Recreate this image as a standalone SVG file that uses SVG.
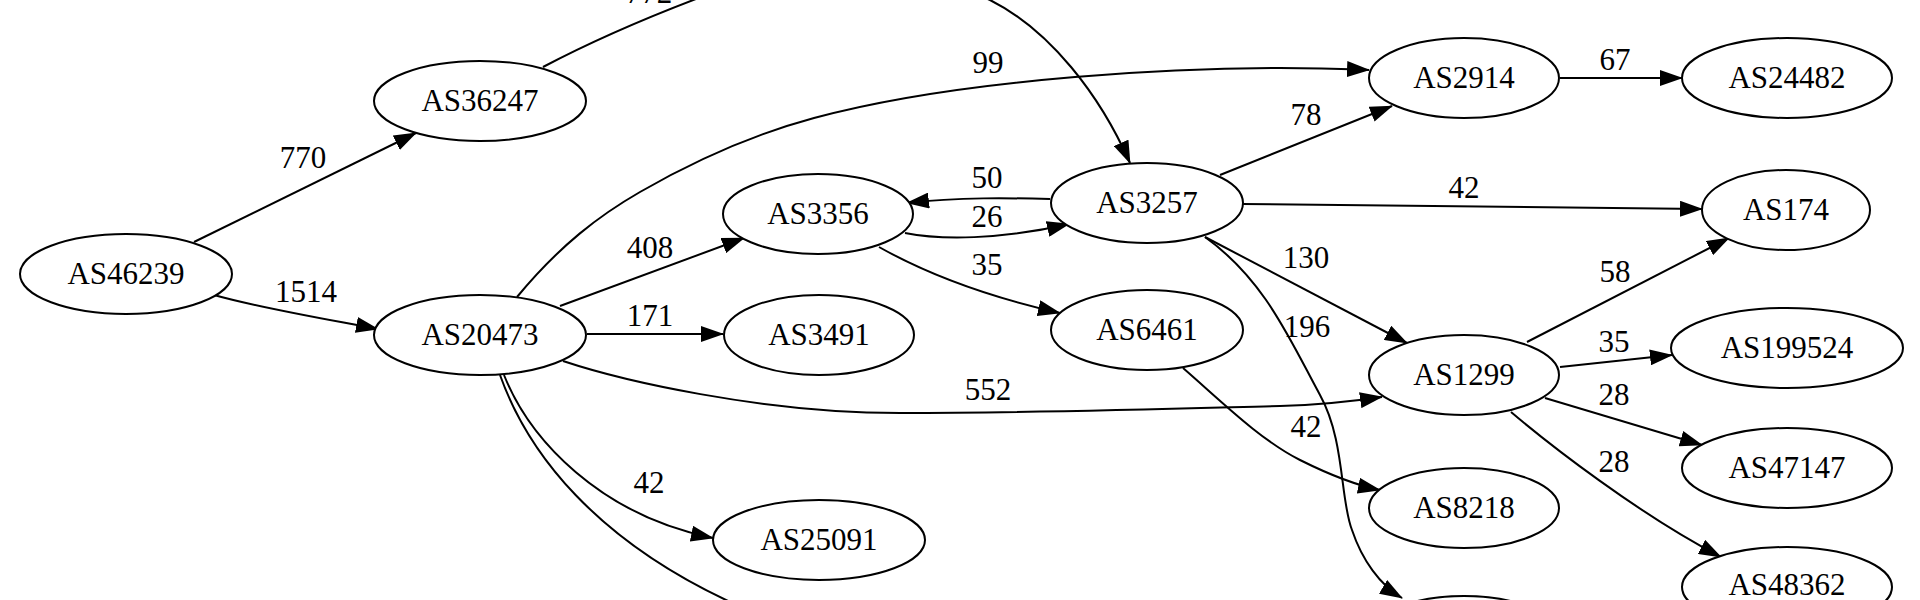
<svg xmlns="http://www.w3.org/2000/svg" width="1920" height="600" viewBox="0 0 1920 600">
<style>
.n ellipse{fill:#fff;stroke:#000;stroke-width:2}
text{font-family:"Liberation Serif","Times New Roman","DejaVu Serif",serif;font-size:31px;fill:#000;text-anchor:middle}
.e path{fill:none;stroke:#000;stroke-width:2;marker-end:url(#ah)}
.e path.na{marker-end:none}
</style>
<defs>
<marker id="ah" markerUnits="userSpaceOnUse" viewBox="0 0 23 16" refX="22" refY="8" markerWidth="23" markerHeight="16" orient="auto">
<path d="M0,0 L23,8 L0,16 z" fill="#000"/>
</marker>
</defs>
<rect width="1920" height="600" fill="#fff"/>
<g id="edges" class="e">
<path d="M194,242 L416,133"/>
<path d="M214,295 C260,308 320,318 378,329"/>
<path d="M543,67 C600,37 660,12 720,-10 C800,-38 920,-30 990,0 C1050,30 1100,95 1130,163"/>
<path d="M517,297 C560,245 600,215 640,192 S740,138 814,118 S980,85 1075,77 S1230,68 1280,68 S1345,69 1369,70"/>
<path d="M560,306 L744,238"/>
<path d="M587,334 L723,334"/>
<path d="M563,361 C620,380 760,413 900,413 C1050,413 1200,408 1280,406 C1320,405 1355,401 1382,397"/>
<path d="M504,375 C530,440 600,515 713,538"/>
<path class="na" d="M500,375 C525,445 590,545 760,615"/>
<path d="M905,233 C940,240 1000,240 1069,224"/>
<path d="M1050,199 C1010,198 960,197 907,203"/>
<path d="M879,247 C920,270 980,295 1060,313"/>
<path d="M1220,175 L1392,106"/>
<path d="M1242,204 L1702,209"/>
<path d="M1205,237 L1407,343"/>
<path d="M1205,237 C1265,280 1290,340 1320,395 C1345,440 1340,500 1352,530 C1362,560 1380,585 1402,598"/>
<path d="M1183,368 C1220,400 1260,440 1300,460 C1330,475 1355,485 1380,490"/>
<path d="M1560,78 L1682,78"/>
<path d="M1527,342 L1729,238"/>
<path d="M1560,367 L1672,355"/>
<path d="M1545,398 L1702,445"/>
<path d="M1511,412 C1550,445 1640,515 1721,557"/>
<text x="303" y="168">770</text>
<text x="306" y="302">1514</text>
<text x="649" y="3">772</text>
<text x="988" y="73">99</text>
<text x="650" y="258">408</text>
<text x="650" y="326">171</text>
<text x="988" y="400">552</text>
<text x="649" y="493">42</text>
<text x="987" y="188">50</text>
<text x="987" y="227">26</text>
<text x="987" y="275">35</text>
<text x="1306" y="125">78</text>
<text x="1464" y="198">42</text>
<text x="1306" y="268">130</text>
<text x="1307" y="337">196</text>
<text x="1306" y="437">42</text>
<text x="1615" y="70">67</text>
<text x="1615" y="282">58</text>
<text x="1614" y="352">35</text>
<text x="1614" y="405">28</text>
<text x="1614" y="472">28</text>
</g>
<g id="AS46239" class="n"><ellipse cx="126" cy="274" rx="106" ry="40"/><text x="126" y="284">AS46239</text></g>
<g id="AS36247" class="n"><ellipse cx="480" cy="101" rx="106" ry="40"/><text x="480" y="111">AS36247</text></g>
<g id="AS20473" class="n"><ellipse cx="480" cy="335" rx="106" ry="40"/><text x="480" y="345">AS20473</text></g>
<g id="AS3356" class="n"><ellipse cx="818" cy="214" rx="95" ry="40"/><text x="818" y="224">AS3356</text></g>
<g id="AS3491" class="n"><ellipse cx="819" cy="335" rx="95" ry="40"/><text x="819" y="345">AS3491</text></g>
<g id="AS25091" class="n"><ellipse cx="819" cy="540" rx="106" ry="40"/><text x="819" y="550">AS25091</text></g>
<g id="AS3257" class="n"><ellipse cx="1147" cy="203" rx="96" ry="40"/><text x="1147" y="213">AS3257</text></g>
<g id="AS6461" class="n"><ellipse cx="1147" cy="330" rx="96" ry="40"/><text x="1147" y="340">AS6461</text></g>
<g id="AS2914" class="n"><ellipse cx="1464" cy="78" rx="95" ry="40"/><text x="1464" y="88">AS2914</text></g>
<g id="AS1299" class="n"><ellipse cx="1464" cy="375" rx="95" ry="40"/><text x="1464" y="385">AS1299</text></g>
<g id="AS8218" class="n"><ellipse cx="1464" cy="508" rx="95" ry="40"/><text x="1464" y="518">AS8218</text></g>
<g id="node_bottom" class="n"><ellipse cx="1464" cy="636" rx="95" ry="40"/></g>
<g id="AS24482" class="n"><ellipse cx="1787" cy="78" rx="105" ry="40"/><text x="1787" y="88">AS24482</text></g>
<g id="AS174" class="n"><ellipse cx="1786" cy="210" rx="84" ry="40"/><text x="1786" y="220">AS174</text></g>
<g id="AS199524" class="n"><ellipse cx="1787" cy="348" rx="116" ry="40"/><text x="1787" y="358">AS199524</text></g>
<g id="AS47147" class="n"><ellipse cx="1787" cy="468" rx="105" ry="40"/><text x="1787" y="478">AS47147</text></g>
<g id="AS48362" class="n"><ellipse cx="1787" cy="587" rx="105" ry="40"/><text x="1787" y="595">AS48362</text></g>
</svg>
